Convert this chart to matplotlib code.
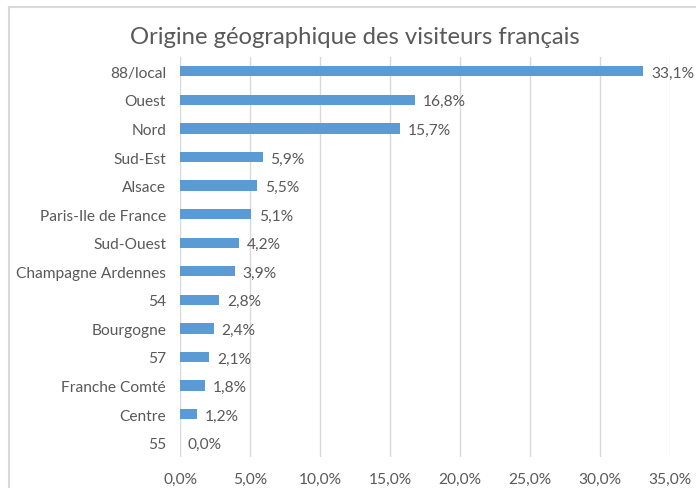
import matplotlib.pyplot as plt
from matplotlib.lines import Line2D

regions = ['88/local', 'Ouest', 'Nord', 'Sud-Est', 'Alsace', 'Paris-Ile de France',
           'Sud-Ouest', 'Champagne Ardennes', '54', 'Bourgogne', '57',
           'Franche Comté', 'Centre', '55']
shares = [33.1, 16.8, 15.7, 5.9, 5.5, 5.1, 4.2, 3.9, 2.8, 2.4, 2.1, 1.8, 1.2, 0.0]
ticks = [0, 5, 10, 15, 20, 25, 30, 35]

plt.rcParams['font.family'] = ['Lato', 'DejaVu Sans']
txt = '#595959'
blue = '#5B9BD5'
grid = '#D9D9D9'

fig = plt.figure(figsize=(6.96, 4.89), dpi=100)
ax = fig.add_axes([180/696, 1 - 458/489, 490/696, 400/489])

pos = range(len(regions))
ax.barh(pos, shares, height=0.36, color=blue, zorder=3)
for i, v in enumerate(shares):
    ax.text(v + 0.55, i + 0.05, ('%.1f%%' % v).replace('.', ','), va='center', ha='left',
            fontsize=11.2, color=txt, zorder=4)

ax.set_xlim(0, 35)
ax.set_ylim(len(regions) - 0.5, -0.5)
ax.set_yticks(list(pos))
ax.set_yticklabels(regions, fontsize=11.2, color=txt)
ax.set_xticks(ticks)
ax.set_xticklabels([('%.1f%%' % t).replace('.', ',') for t in ticks], fontsize=11.2, color=txt)
ax.tick_params(length=0)
ax.tick_params(axis='x', pad=11)
ax.tick_params(axis='y', pad=10)
ax.grid(axis='x', color=grid, linewidth=1, zorder=0)
for s in ax.spines.values():
    s.set_visible(False)

fig.text(355/696, 1 - 37/489, 'Origine géographique des visiteurs français',
         ha='center', va='center', fontsize=17.2, color=txt)

# chart area border (top and left edges)
fig.add_artist(Line2D([9/696, 1], [1 - 8/489, 1 - 8/489], color=grid, linewidth=1.5))
fig.add_artist(Line2D([9/696, 9/696], [0, 1 - 8/489], color=grid, linewidth=1.5))

fig.savefig('out.png', dpi=100)
